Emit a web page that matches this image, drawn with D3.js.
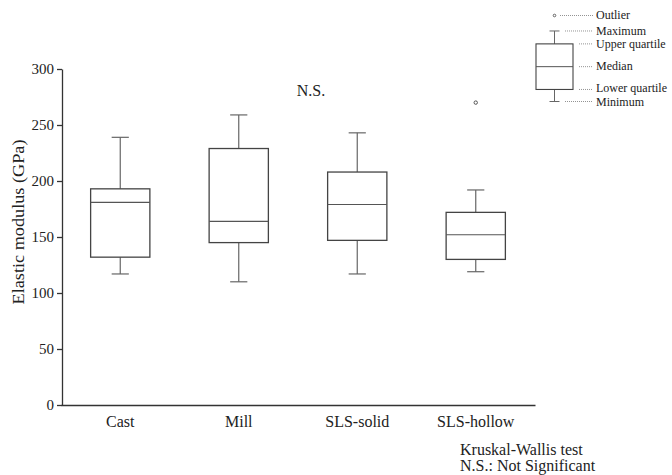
<!DOCTYPE html>
<html>
<head>
<meta charset="utf-8">
<script src="https://cdn.jsdelivr.net/npm/d3@7"></script>
<style>
  html, body { margin: 0; padding: 0; background: #fff; }
  svg { display: block; }
  text { fill: #222; font-family: "Liberation Serif", "Times New Roman", serif; }
</style>
</head>
<body>
<script>
// values (GPa)
const categories = ['Cast', 'Mill', 'SLS-solid', 'SLS-hollow'];
const mins    = [117, 110, 117, 119];
const q1s     = [132, 145, 147, 130];
const medians = [181, 164, 179, 152];
const q3s     = [193, 229, 208, 172];
const maxs    = [239, 259, 243, 192];
const outliers = [[], [], [], [270]];
const yTicks = [0, 50, 100, 150, 200, 250, 300];

// schematic legend box
const legendKeys   = ['min', 'q1', 'median', 'q3', 'max', 'outlier'];
const legendValues = [0, 14, 40.5, 67, 82, 100];
const legendLabels = ['Minimum', 'Lower quartile', 'Median', 'Upper quartile', 'Maximum', 'Outlier'];

const WIDTH = 672;
const HEIGHT = 475;

const svg = d3.select('body')
    .append('svg')
    .attr('width', WIDTH)
    .attr('height', HEIGHT);

const x = d3.scaleBand()
    .domain(categories)
    .range([61, 535])
    .paddingInner(0.5)
    .paddingOuter(0.25);

const y = d3.scaleLinear()
    .domain([0, 300])
    .range([405, 69]);

const data = categories.map((c, i) => ({
  cat: c, min: mins[i], q1: q1s[i], median: medians[i], q3: q3s[i], max: maxs[i], out: outliers[i]
}));

// axes
const yAxis = svg.append('g')
    .attr('transform', 'translate(62,0)')
    .call(d3.axisLeft(y).tickValues(yTicks).tickSize(5).tickPadding(3).tickSizeOuter(0))
    .attr('font-family', null);
yAxis.selectAll('text').style('font-size', '15px').attr('fill', '#222');
yAxis.selectAll('line, path').attr('stroke', '#333').attr('stroke-width', 1.3);

const xAxis = svg.append('g')
    .attr('transform', 'translate(0,405)')
    .call(d3.axisBottom(x).tickSize(0).tickPadding(10.6).tickSizeOuter(0))
    .attr('font-family', null);
xAxis.select('path').attr('stroke', '#333').attr('stroke-width', 1.3);
xAxis.selectAll('text').style('font-size', '16px').attr('fill', '#222');

svg.append('text')
    .attr('transform', 'translate(24,222) rotate(-90)')
    .attr('text-anchor', 'middle')
    .attr('textLength', 165)
    .attr('lengthAdjust', 'spacingAndGlyphs')
    .style('font-size', '17px')
    .text('Elastic modulus (GPa)');

// boxes
const bw = x.bandwidth();
const capW = bw * 0.29;
const box = svg.selectAll('g.box')
    .data(data)
    .enter().append('g')
      .classed('box', true)
      .attr('transform', d => `translate(${x(d.cat)},0)`);

box.append('line')
    .attr('x1', bw / 2).attr('x2', bw / 2)
    .attr('y1', d => y(d.q3)).attr('y2', d => y(d.max))
    .attr('stroke', '#666').attr('stroke-width', 1.2);
box.append('line')
    .attr('x1', bw / 2).attr('x2', bw / 2)
    .attr('y1', d => y(d.q1)).attr('y2', d => y(d.min))
    .attr('stroke', '#666').attr('stroke-width', 1.2);
box.append('line')
    .attr('x1', bw / 2 - capW / 2).attr('x2', bw / 2 + capW / 2)
    .attr('y1', d => y(d.max)).attr('y2', d => y(d.max))
    .attr('stroke', '#666').attr('stroke-width', 1.2);
box.append('line')
    .attr('x1', bw / 2 - capW / 2).attr('x2', bw / 2 + capW / 2)
    .attr('y1', d => y(d.min)).attr('y2', d => y(d.min))
    .attr('stroke', '#666').attr('stroke-width', 1.2);
box.append('rect')
    .attr('x', 0).attr('width', bw)
    .attr('y', d => y(d.q3))
    .attr('height', d => y(d.q1) - y(d.q3))
    .attr('fill', 'none').attr('stroke', '#444').attr('stroke-width', 1.3);
box.append('line')
    .attr('x1', 0).attr('x2', bw)
    .attr('y1', d => y(d.median)).attr('y2', d => y(d.median))
    .attr('stroke', '#555').attr('stroke-width', 1.2);
box.selectAll('circle')
    .data(d => d.out)
    .enter().append('circle')
      .attr('cx', bw / 2)
      .attr('cy', v => y(v))
      .attr('r', 1.7)
      .attr('fill', '#fff').attr('stroke', '#444').attr('stroke-width', 0.9);

// annotations
svg.append('text')
    .attr('x', 311).attr('y', 96)
    .attr('text-anchor', 'middle')
    .style('font-size', '16px')
    .text('N.S.');

const note = svg.append('text')
    .attr('x', 460)
    .style('font-size', '16px');
note.append('tspan').attr('x', 460).attr('y', 455).text('Kruskal-Wallis test');
note.append('tspan').attr('x', 460).attr('y', 471).text('N.S.: Not Significant');

// legend
const ly = d3.scaleLinear().domain([0, 100]).range([101.5, 15.5]);
const lv = {};
legendKeys.forEach((k, i) => { lv[k] = legendValues[i]; });
const LX = 536, LW = 37, LC = LX + LW / 2;
const legend = svg.append('g').classed('legend', true);

legend.append('line')
    .attr('x1', LC).attr('x2', LC).attr('y1', ly(lv.q3)).attr('y2', ly(lv.max))
    .attr('stroke', '#666');
legend.append('line')
    .attr('x1', LC).attr('x2', LC).attr('y1', ly(lv.q1)).attr('y2', ly(lv.min))
    .attr('stroke', '#666');
legend.selectAll('line.cap')
    .data([lv.min, lv.max])
    .enter().append('line')
      .classed('cap', true)
      .attr('x1', LC - 5).attr('x2', LC + 5)
      .attr('y1', d => ly(d)).attr('y2', d => ly(d))
      .attr('stroke', '#666');
legend.append('rect')
    .attr('x', LX).attr('width', LW)
    .attr('y', ly(lv.q3)).attr('height', ly(lv.q1) - ly(lv.q3))
    .attr('fill', 'none').attr('stroke', '#444').attr('stroke-width', 1.1);
legend.append('line')
    .attr('x1', LX).attr('x2', LX + LW)
    .attr('y1', ly(lv.median)).attr('y2', ly(lv.median))
    .attr('stroke', '#555');
legend.append('circle')
    .attr('cx', LC).attr('cy', ly(lv.outlier)).attr('r', 1.3)
    .attr('fill', '#fff').attr('stroke', '#444').attr('stroke-width', 0.8);

// dotted leaders and labels
const leaderStart = { min: 565, q1: 579, median: 579, q3: 579, max: 565, outlier: 560 };
const labelShift  = { min: 1, q1: -1.5, median: -1, q3: 0, max: 0, outlier: 0 };
legendKeys.forEach((k, i) => {
  legend.append('line')
      .attr('x1', leaderStart[k]).attr('x2', 593)
      .attr('y1', ly(lv[k])).attr('y2', ly(lv[k]))
      .attr('stroke', '#777').attr('stroke-width', 0.8)
      .attr('stroke-dasharray', '1,1');
  legend.append('text')
      .attr('x', 596).attr('y', ly(lv[k]) + labelShift[k])
      .attr('dy', '0.32em')
      .style('font-size', '12px')
      .text(legendLabels[i]);
});
</script>
</body>
</html>
